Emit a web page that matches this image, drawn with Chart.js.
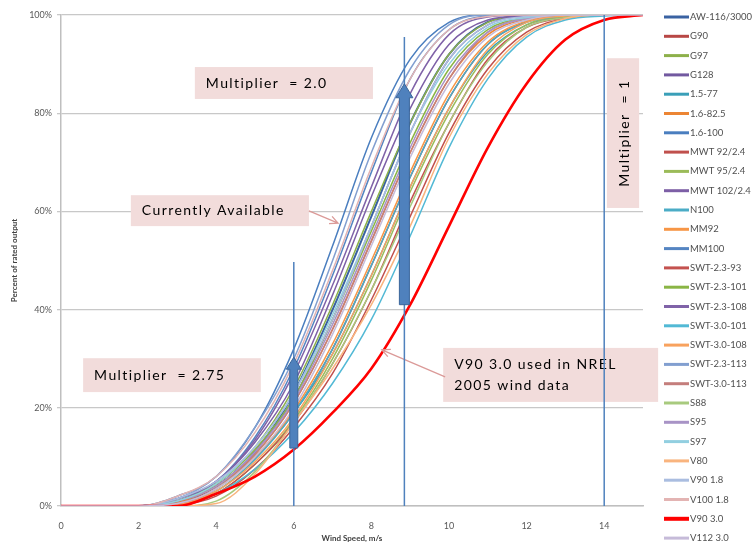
<!DOCTYPE html>
<html>
<head>
<meta charset="utf-8">
<script src="https://cdn.jsdelivr.net/npm/chart.js@4.4.1/dist/chart.umd.min.js"></script>
<style>
  html, body { margin: 0; padding: 0; background: #fff; }
  #wrap { width: 755px; height: 550px; }
</style>
</head>
<body>
<div id="wrap"><canvas id="myChart" width="755" height="550"></canvas></div>
<script>
// wind speed, m/s
const windSpeed = [0, 1, 2, 3, 4, 5, 6, 7, 8, 9, 10, 11, 12, 13, 14, 15];
const xTicks = [0, 2, 4, 6, 8, 10, 12, 14];
const yTicks = [0, 20, 40, 60, 80, 100];

// percent of rated output
const aw116    = [0, 0, 0, 1,   4,   11,   23,   40, 59, 78, 92,   98.6, 99.8, 100,  100,  100];
const g90      = [0, 0, 0, 0.8, 4,   10,   19,   32, 49, 67, 83,   94,   98.6, 100,  100,  100];
const g97      = [0, 0, 0, 1,   4.5, 12,   24,   41, 60, 78, 92,   98.5, 99.8, 100,  100,  100];
const g128     = [0, 0, 0, 0.5, 4,   11,   22,   38, 57, 76, 91,   98,   99.8, 100,  100,  100];
const ge1577   = [0, 0, 0, 0.8, 4,   10,   19,   31, 47, 65, 81,   92.5, 98,   99.7, 100,  100];
const ge16825  = [0, 0, 0, 0.8, 4,   10.5, 21,   36, 54, 72, 87,   96,   99.2, 100,  100,  100];
const ge16100  = [0, 0, 0, 2,   6,   16,   32,   53, 75, 91, 98.5, 100,  100,  100,  100,  100];
const mwt92    = [0, 0, 0, 0.2, 2,   7.5,  16,   27, 42, 59, 76,   89,   96.5, 99.3, 100,  100];
const mwt95    = [0, 0, 0, 0.3, 2.5, 8.5,  17.5, 30, 46, 64, 80,   92,   98,   99.7, 100,  100];
const mwt102   = [0, 0, 0, 1,   5,   13,   25,   43, 63, 81, 94,   99,   99.8, 100,  100,  100];
const n100     = [0, 0, 0, 0.5, 3,   9.5,  19,   32, 49, 67, 83,   94,   98.5, 99.8, 100,  100];
const mm92     = [0, 0, 0, 0.5, 3.5, 10,   19.5, 33, 50, 68, 84,   94.5, 98.8, 100,  100,  100];
const mm100    = [0, 0, 0, 1.5, 5,   14,   28,   47, 68, 87, 97,   99.8, 100,  100,  100,  100];
const swt2393  = [0, 0, 0, 0.3, 2.5, 8.5,  17,   29, 44, 62, 78,   91,   97.5, 99.5, 100,  100];
const swt23101 = [0, 0, 0, 1,   4.5, 11.5, 22,   38, 56, 74, 89,   97,   99.5, 100,  100,  100];
const swt23108 = [0, 0, 0, 1.5, 5,   13.5, 27,   45, 65, 84, 96,   99.6, 100,  100,  100,  100];
const swt30101 = [0, 0, 0, 0.3, 2.5, 7.5,  15,   25, 38, 55, 73,   87,   95.5, 99,   99.8, 100];
const swt30108 = [0, 0, 0, 0.3, 3,   9,    18,   31, 47, 65, 81,   93,   98.5, 99.8, 100,  100];
const swt23113 = [0, 0, 0, 1.5, 6,   16,   30,   50, 72, 89, 98,   100,  100,  100,  100,  100];
const swt30113 = [0, 0, 0, 0.5, 3.5, 10.5, 21,   36, 54, 72, 87,   96.5, 99.3, 100,  100,  100];
const s88      = [0, 0, 0, 0,   1,   7,    17,   29, 44, 61, 78,   90.5, 97.5, 99.5, 100,  100];
const s95      = [0, 0, 0, 1,   4,   11,   21.5, 37, 55, 73, 88,   96.5, 99.3, 100,  100,  100];
const s97      = [0, 0, 0, 1,   4.5, 12,   23,   39, 57, 76, 90,   97.5, 99.5, 100,  100,  100];
const v80      = [0, 0, 0, 0,   0.5, 6.5,  17,   28, 41, 57, 75,   88,   96,   99.3, 100,  100];
const v9018    = [0, 0, 0, 1.5, 5,   12,   23,   38, 57, 76, 91,   98,   99.7, 100,  100,  100];
const v10018   = [0, 0, 0, 2,   6,   15,   29,   48, 69, 87, 97,   99.7, 100,  100,  100,  100];
const v9030    = [0, 0, 0, 0,   2.5, 6,    11.5, 19, 28, 41, 57,   73,   86,   95,   99,   100];
const v11230   = [0, 0, 0, 0.5, 3.5, 10,   20,   35, 53, 71, 86,   95.5, 99,   100,  100,  100];

const turbineNames = ['AW-116/3000', 'G90', 'G97', 'G128', '1.5-77', '1.6-82.5', '1.6-100',
    'MWT 92/2.4', 'MWT 95/2.4', 'MWT 102/2.4', 'N100', 'MM92', 'MM100', 'SWT-2.3-93',
    'SWT-2.3-101', 'SWT-2.3-108', 'SWT-3.0-101', 'SWT-3.0-108', 'SWT-2.3-113', 'SWT-3.0-113',
    'S88', 'S95', 'S97', 'V80', 'V90 1.8', 'V100 1.8', 'V90 3.0', 'V112 3.0'];
const turbineValues = [aw116, g90, g97, g128, ge1577, ge16825, ge16100, mwt92, mwt95, mwt102,
    n100, mm92, mm100, swt2393, swt23101, swt23108, swt30101, swt30108, swt23113, swt30113,
    s88, s95, s97, v80, v9018, v10018, v9030, v11230];
const turbineColors = ['#3A62A2', '#B84745', '#8DB04A', '#7259A0', '#3A9FB8', '#EC8534', '#4A7EBF',
    '#C0504D', '#9BBB59', '#7D5FA6', '#4BACC6', '#F79646', '#5585C2', '#C4524F',
    '#8AB545', '#8063A8', '#52B9D5', '#F8A25E', '#829FD0', '#C47E7C',
    '#A8CA7E', '#A893C6', '#92CFE0', '#F9B47E', '#AABDE0', '#E3B4B3', '#FF0000', '#C6BBD9'];

// annotation boxes, in chart units
const noteBoxes = [
    { lines: ['Multiplier  = 2.0'], x0: 3.45, x1: 8.04, y0: 89.4, y1: 82.9 },
    { lines: ['Currently Available'], x0: 1.80, x1: 6.39, y0: 63.3, y1: 57.0 },
    { lines: ['Multiplier  = 2.75'], x0: 0.57, x1: 5.15, y0: 30.1, y1: 23.2 },
    { lines: ['V90 3.0 used in NREL', '2005 wind data'], x0: 9.85, x1: 15.39, y0: 32.2, y1: 21.2 }
];
const sideBox = { text: 'Multiplier  = 1', x0: 14.07, x1: 14.9, y0: 91.2, y1: 60.7 };
const callouts = [
    { from: [6.39, 60.1], to: [7.14, 57.6] },
    { from: [9.9, 26.3], to: [8.27, 31.8] }
];
const markerLines = [
    { x: 6, top: 49.7 },
    { x: 8.85, top: 95.5 },
    { x: 14, top: 100 }
];
const blockArrows = [
    { x: 6, from: 11.8, to: 30.3, shaft: 8, head: 15, headLen: 12 },
    { x: 8.85, from: 41, to: 86, shaft: 10, head: 17, headLen: 14 }
];

const ctx = document.getElementById('myChart').getContext('2d');

const datasets = turbineNames.map((name, i) => ({
    label: name,
    data: windSpeed.map((s, k) => ({ x: s, y: turbineValues[i][k] })),
    borderColor: turbineColors[i],
    backgroundColor: turbineColors[i],
    borderWidth: name === 'V90 3.0' ? 2.6 : (i === 0 ? 2 : 1.5),
    pointRadius: 0,
    cubicInterpolationMode: 'monotone',
    fill: false,
    order: turbineNames.length - i
}));

function drawBlockArrow(c, cx, yb, yt, shaftW, headW, headL) {
    c.beginPath();
    c.moveTo(cx - shaftW / 2, yb);
    c.lineTo(cx - shaftW / 2, yt + headL);
    c.lineTo(cx - headW / 2, yt + headL);
    c.lineTo(cx, yt);
    c.lineTo(cx + headW / 2, yt + headL);
    c.lineTo(cx + shaftW / 2, yt + headL);
    c.lineTo(cx + shaftW / 2, yb);
    c.closePath();
    c.fill();
    c.stroke();
}

const notesPlugin = {
    id: 'notes',
    afterDatasetsDraw(chart) {
        const c = chart.ctx;
        const xs = chart.scales.x, ys = chart.scales.y;
        c.save();

        // pink boxes
        c.textBaseline = 'middle';
        c.font = '14px Lato';
        c.letterSpacing = '1.4px';
        noteBoxes.forEach(b => {
            const l = xs.getPixelForValue(b.x0), r = xs.getPixelForValue(b.x1);
            const t = ys.getPixelForValue(b.y0), btm = ys.getPixelForValue(b.y1);
            c.fillStyle = '#F2DCDB';
            c.fillRect(l, t, r - l, btm - t);
            c.fillStyle = '#000';
            const step = (btm - t) / (b.lines.length + 0.6);
            b.lines.forEach((txt, k) => {
                c.fillText(txt, l + 11, t + step * (k + 0.8));
            });
        });

        // vertical box
        {
            const l = xs.getPixelForValue(sideBox.x0), r = xs.getPixelForValue(sideBox.x1);
            const t = ys.getPixelForValue(sideBox.y0), btm = ys.getPixelForValue(sideBox.y1);
            c.fillStyle = '#F2DCDB';
            c.fillRect(l, t, r - l, btm - t);
            c.save();
            c.translate((l + r) / 2, (t + btm) / 2);
            c.rotate(-Math.PI / 2);
            c.fillStyle = '#000';
            c.textAlign = 'center';
            c.fillText(sideBox.text, 0, 1);
            c.restore();
        }
        c.letterSpacing = '0px';

        // callout arrows
        c.strokeStyle = '#DB9A98';
        c.lineWidth = 1.3;
        callouts.forEach(a => {
            const x1 = xs.getPixelForValue(a.from[0]), y1 = ys.getPixelForValue(a.from[1]);
            const x2 = xs.getPixelForValue(a.to[0]), y2 = ys.getPixelForValue(a.to[1]);
            const ang = Math.atan2(y2 - y1, x2 - x1);
            c.beginPath();
            c.moveTo(x1, y1);
            c.lineTo(x2, y2);
            c.moveTo(x2 - 9 * Math.cos(ang - 0.45), y2 - 9 * Math.sin(ang - 0.45));
            c.lineTo(x2, y2);
            c.lineTo(x2 - 9 * Math.cos(ang + 0.45), y2 - 9 * Math.sin(ang + 0.45));
            c.stroke();
        });

        // thin vertical marker lines
        c.strokeStyle = '#4F81BD';
        c.lineWidth = 1.5;
        markerLines.forEach(m => {
            const px = xs.getPixelForValue(m.x);
            c.beginPath();
            c.moveTo(px, ys.getPixelForValue(0));
            c.lineTo(px, ys.getPixelForValue(m.top));
            c.stroke();
        });

        // thick block arrows
        c.fillStyle = '#4F81BD';
        c.strokeStyle = '#3A659A';
        c.lineWidth = 1;
        blockArrows.forEach(a => {
            drawBlockArrow(c, xs.getPixelForValue(a.x), ys.getPixelForValue(a.from),
                ys.getPixelForValue(a.to), a.shaft, a.head, a.headLen);
        });

        c.restore();
    },
    afterDraw(chart) {
        // legend on the right
        const c = chart.ctx;
        c.save();
        c.font = '9.5px Lato';
        c.textBaseline = 'middle';
        chart.data.datasets.forEach((ds, i) => {
            const yy = 17 + i * 19.3;
            c.strokeStyle = ds.borderColor;
            c.lineWidth = ds.label === 'V90 3.0' ? 4 : 3;
            c.beginPath();
            c.moveTo(664, yy);
            c.lineTo(689, yy);
            c.stroke();
            c.fillStyle = '#505050';
            c.fillText(ds.label, 690, yy);
        });
        c.restore();
    }
};

const stockChart = new Chart(ctx, {
    type: 'line',
    data: { datasets },
    options: {
        responsive: false,
        animation: false,
        devicePixelRatio: 1,
        layout: { padding: { top: 15, right: 112, left: 0, bottom: 0 } },
        plugins: {
            legend: { display: false },
            tooltip: { enabled: false }
        },
        scales: {
            x: {
                type: 'linear',
                min: 0,
                max: 15,
                afterFit: s => { s.height = 44; },
                afterBuildTicks: s => { s.ticks = xTicks.map(v => ({ value: v })); },
                grid: { display: false },
                border: { display: true, color: '#BFBFBF', width: 1.5 },
                ticks: { color: '#595959', font: { family: 'Lato', size: 9 }, padding: 7 },
                title: {
                    display: true,
                    text: 'Wind Speed, m/s',
                    color: '#404040',
                    font: { family: 'Lato', size: 8, weight: 'bold' },
                    padding: { top: 0, bottom: 7 }
                }
            },
            y: {
                min: 0,
                max: 100,
                afterFit: s => { s.width = 61; },
                afterBuildTicks: s => { s.ticks = yTicks.map(v => ({ value: v })); },
                grid: { color: '#C8C8C8', lineWidth: 1.3, tickLength: 4 },
                border: { display: true, color: '#BFBFBF', width: 1.5 },
                ticks: {
                    color: '#595959',
                    font: { family: 'Lato', size: 9 },
                    padding: 5,
                    callback: v => v + '%'
                },
                title: {
                    display: true,
                    text: 'Percent of rated output',
                    color: '#404040',
                    font: { family: 'Lato', size: 8, weight: 'bold' },
                    padding: { top: 10, bottom: 0 }
                }
            }
        }
    },
    plugins: [notesPlugin]
});
</script>
</body>
</html>
